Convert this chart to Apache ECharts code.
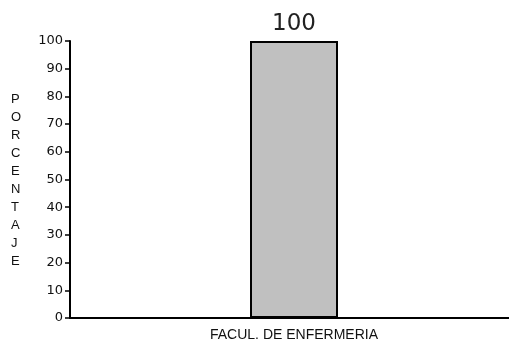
<!DOCTYPE html>
<html>
<head>
<meta charset="utf-8">
<script src="https://cdn.jsdelivr.net/npm/echarts@6/dist/echarts.min.js"></script>
<style>html,body{margin:0;padding:0;background:#fff}#c{width:509px;height:343px}</style>
</head>
<body>
<div id="c"></div>
<script>
const categories = ['FACUL. DE ENFERMERIA'];
const values = [100];
const yTicks = {min: 0, max: 100, interval: 10};
const yName = 'PORCENTAJE';

const chart = echarts.init(document.getElementById('c'));
chart.setOption({
  animation: false,
  grid: {left: 70, right: -9, top: 41, bottom: 25, outerBoundsMode: 'none', containLabel: false},
  xAxis: {
    type: 'category',
    data: categories,
    axisLine: {lineStyle: {color: '#000', width: 2}},
    axisTick: {show: false},
    axisLabel: {color: '#111', fontFamily: 'Liberation Sans, Arial', fontSize: 14, margin: 10}
  },
  yAxis: {
    type: 'value',
    min: yTicks.min, max: yTicks.max, interval: yTicks.interval,
    axisLine: {show: true, lineStyle: {color: '#000', width: 2}},
    axisTick: {show: true, length: 5, lineStyle: {color: '#000', width: 1.5}},
    axisLabel: {color: '#111', fontFamily: 'DejaVu Sans', fontSize: 13, margin: 7},
    splitLine: {show: false}
  },
  graphic: [{
    type: 'text',
    left: 11, top: 90,
    style: {
      text: yName.split('').join('\n'),
      fontFamily: 'Liberation Sans, Arial',
      fontSize: 13,
      lineHeight: 18,
      fill: '#111',
      align: 'center'
    }
  }],
  series: [{
    type: 'bar',
    data: values,
    barWidth: 88,
    itemStyle: {color: '#c0c0c0', borderColor: '#000', borderWidth: 2},
    label: {
      show: true, position: 'top', distance: 5,
      color: '#222', fontFamily: 'DejaVu Sans', fontSize: 23
    }
  }]
});
</script>
</body>
</html>
